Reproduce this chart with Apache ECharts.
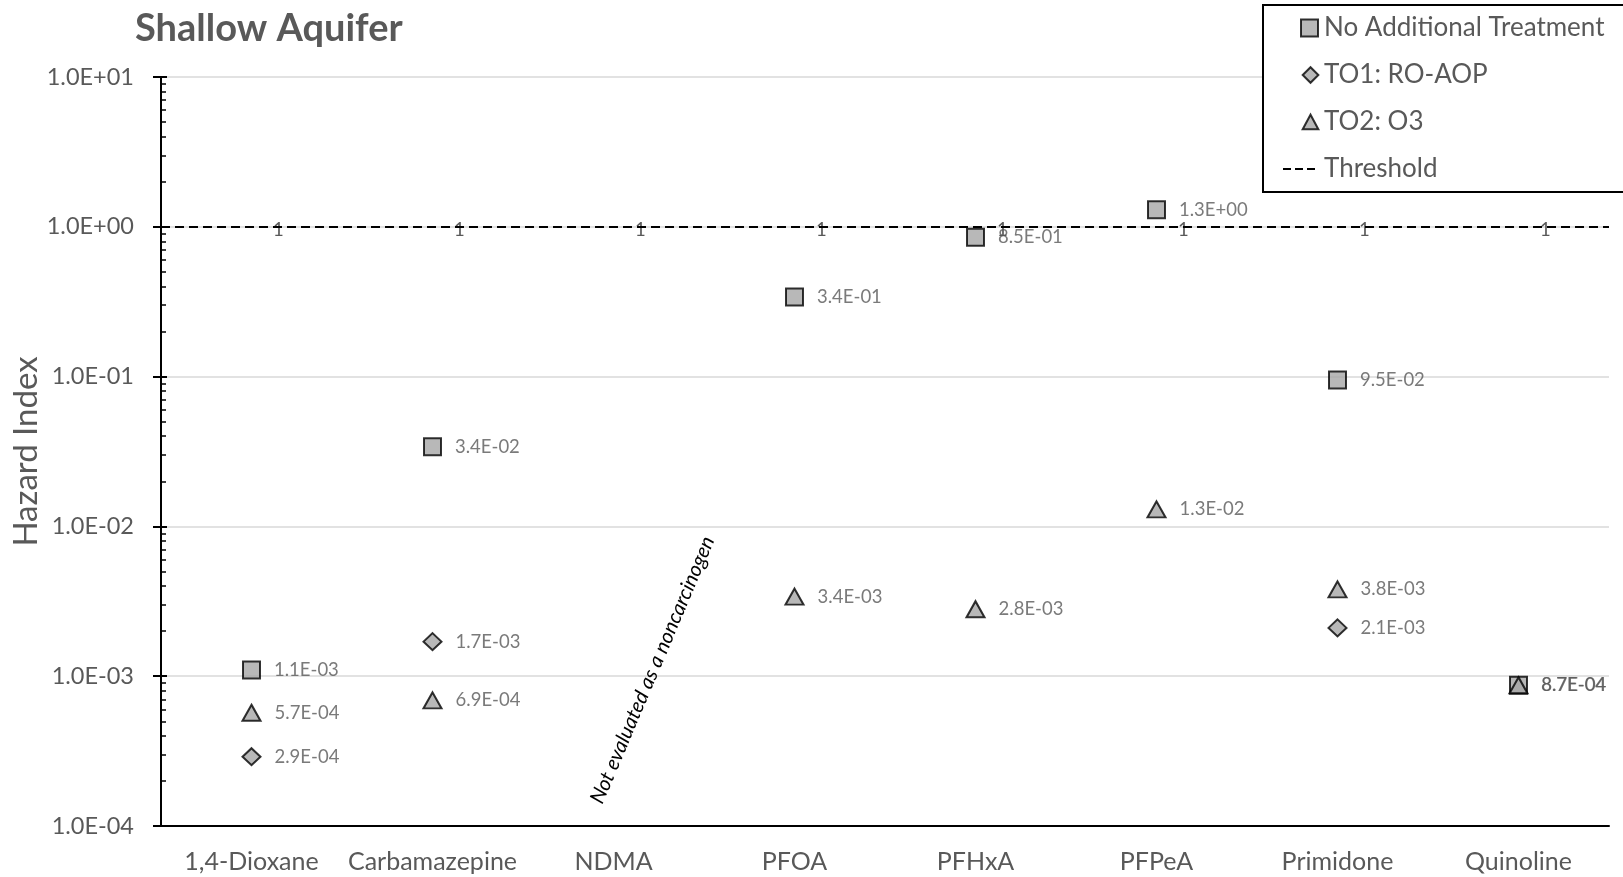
<!DOCTYPE html>
<html><head><meta charset="utf-8">
<script src="https://cdn.jsdelivr.net/npm/echarts@6/dist/echarts.min.js"></script>
<style>html,body{margin:0;padding:0;background:#fff}#c{width:1623px;height:877px}</style>
</head><body><div id="c"></div>
<script>
const categories = ['1,4-Dioxane', 'Carbamazepine', 'NDMA', 'PFOA', 'PFHxA', 'PFPeA', 'Primidone', 'Quinoline'];
const noAdditionalTreatment = [1.1e-3, 3.4e-2, null, 3.4e-1, 8.5e-1, 1.3, 9.5e-2, 8.7e-4];
const to1RoAop = [2.9e-4, 1.7e-3, null, null, null, null, 2.1e-3, null];
const to2O3 = [5.7e-4, 6.9e-4, null, 3.4e-3, 2.8e-3, 1.3e-2, 3.8e-3, 8.7e-4];
const threshold = [1, 1, 1, 1, 1, 1, 1, 1];
const yTickLabels = ['1.0E-04', '1.0E-03', '1.0E-02', '1.0E-01', '1.0E+00', '1.0E+01'];
const seriesNames = ['No Additional Treatment', 'TO1: RO-AOP', 'TO2: O3', 'Threshold'];
const annotationCategory = 'NDMA';
const annotationValue = 1.1e-3;
const annotationText = 'Not evaluated as a noncarcinogen';

const FONT = 'Lato';
const GRAY = '#595959';
const FILL = '#a6a6a6';

// legend icons: zero-length stubs fix the icon box so each marker sits toward the text side
const STUB = 'M0,0L0,0M0,10L0,10';
const ICON_SQUARE = 'path://' + STUB + 'M10.5,-0.3L21,-0.3L21,10.2L10.5,10.2Z';
const ICON_DIAMOND = 'path://' + STUB + 'M11.2,5L15.8,0.4L20.4,5L15.8,9.6Z';
const ICON_TRIANGLE = 'path://' + STUB + 'M11.2,9.3L15.8,0.7L20.4,9.3Z';

function sci(v) {
  const parts = v.toExponential(1).split('e');
  const n = parseInt(parts[1], 10);
  return parts[0] + 'E' + (n < 0 ? '-' : '+') + String(Math.abs(n)).padStart(2, '0');
}
function val(p) { return Array.isArray(p.value) ? p.value[1] : p.value; }

const dataLabel = {
  show: true, position: 'right', distance: 13,
  fontFamily: FONT, fontSize: 18.5, color: GRAY,
  formatter: p => sci(val(p))
};
const markerStyle = { color: FILL, borderColor: '#000', borderWidth: 2 };

const chart = echarts.init(document.getElementById('c'), null, { renderer: 'canvas' });
const yCommon = { type: 'log', logBase: 10, min: 1e-4, max: 10 };

chart.setOption({
  animation: false,
  backgroundColor: '#fff',
  title: {
    text: 'Shallow Aquifer', left: 135, top: 10, padding: 0,
    textStyle: { fontFamily: FONT, fontSize: 38, fontWeight: 'bold', color: GRAY }
  },
  grid: { left: 161, right: 14, top: 77, bottom: 51, containLabel: false, outerBoundsMode: 'none' },
  legend: {
    data: [
      { name: seriesNames[0], icon: ICON_SQUARE },
      { name: seriesNames[1], icon: ICON_DIAMOND },
      { name: seriesNames[2], icon: ICON_TRIANGLE },
      { name: seriesNames[3], lineStyle: { color: '#000', width: 2, type: [8, 4], opacity: 1 }, itemStyle: { opacity: 0 } }
    ],
    orient: 'vertical', left: 1263, top: 5,
    itemWidth: 36, itemHeight: 17, itemGap: 21,
    symbolKeepAspect: true,
    padding: [10, 30, 10, 19],
    borderColor: '#000', borderWidth: 2, backgroundColor: '#fff',
    textStyle: { fontFamily: FONT, fontSize: 26, color: GRAY, lineHeight: 26 },
    selectedMode: false
  },
  xAxis: {
    type: 'category', data: categories, boundaryGap: true,
    axisLine: { show: true, lineStyle: { color: '#000', width: 2 } },
    axisTick: { show: false },
    axisLabel: { interval: 0, fontFamily: FONT, fontSize: 25, color: GRAY, margin: 23 },
    splitLine: { show: false }
  },
  yAxis: [
    Object.assign({}, yCommon, {
      position: 'left',
      name: 'Hazard Index', nameLocation: 'middle', nameGap: 118, nameMoveOverlap: false,
      nameTextStyle: { fontFamily: FONT, fontSize: 33, color: GRAY },
      axisLine: { show: true, lineStyle: { color: '#000', width: 2 } },
      axisTick: { show: true, length: 8, lineStyle: { color: '#000', width: 2 } },
      axisLabel: {
        fontFamily: FONT, fontSize: 23.5, color: GRAY, margin: 27,
        formatter: v => yTickLabels[Math.round(Math.log10(v)) + 4]
      },
      splitLine: { show: true, lineStyle: { color: '#d9d9d9', width: 1.5 } },
      minorTick: { show: false }
    }),
    Object.assign({}, yCommon, {
      position: 'left', offset: 0,
      axisLine: { show: false },
      axisTick: { show: true, inside: true, length: 6, lineStyle: { color: '#000', width: 2 } },
      minorTick: { show: true, splitNumber: 9, length: 5, lineStyle: { color: '#000', width: 1.5 } },
      axisLabel: { show: false },
      splitLine: { show: false }
    })
  ],
  series: [
    {
      name: seriesNames[0], type: 'scatter', data: noAdditionalTreatment,
      symbol: 'rect', symbolSize: 17, itemStyle: markerStyle, label: dataLabel, z: 3
    },
    {
      name: seriesNames[1], type: 'scatter', data: to1RoAop,
      symbol: 'diamond', symbolSize: [18, 17], itemStyle: markerStyle, label: dataLabel, z: 4
    },
    {
      name: seriesNames[2], type: 'scatter', data: to2O3,
      symbol: 'triangle', symbolSize: [18, 16], itemStyle: markerStyle, label: dataLabel, z: 5
    },
    {
      name: seriesNames[3], type: 'line', data: threshold,
      symbol: 'rect', symbolSize: 17, showSymbol: true,
      itemStyle: { color: 'rgba(0,0,0,0)', borderWidth: 0 },
      lineStyle: { color: '#000', width: 2, type: [8, 4], opacity: 0 },
      label: { show: true, position: 'right', distance: 13, offset: [0, 3], fontFamily: FONT, fontSize: 18.5, color: GRAY, formatter: '{c}' },
      markLine: {
        silent: true, symbol: ['none', 'none'],
        label: { show: false },
        lineStyle: { color: '#000', width: 2, type: [9, 5] },
        data: [{ yAxis: 1 }]
      },
      z: 2
    }
  ]
});

const p = chart.convertToPixel({ xAxisIndex: 0, yAxisIndex: 0 }, [annotationCategory, annotationValue]);
chart.setOption({
  graphic: [{
    type: 'text', x: p[0] + 39, y: p[1], rotation: 67 * Math.PI / 180,
    style: {
      text: annotationText, fontFamily: FONT, fontStyle: 'italic', fontSize: 20.5,
      fill: '#000', align: 'center', verticalAlign: 'middle'
    }
  }]
});
</script>
</body></html>
